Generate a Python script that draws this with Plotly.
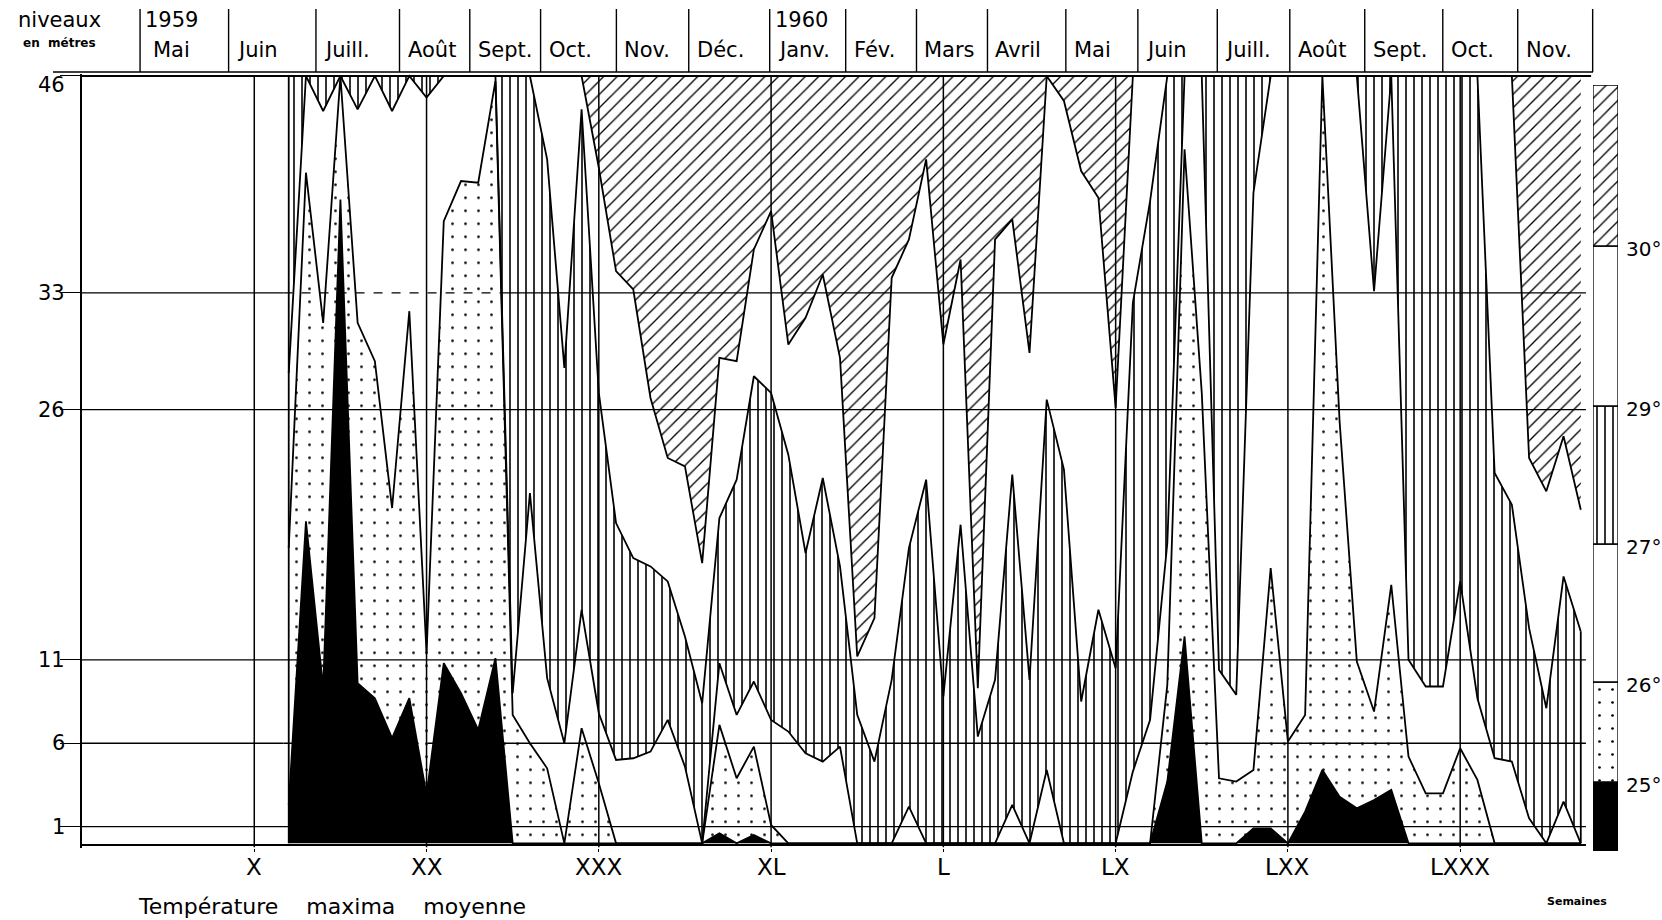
import plotly.graph_objects as go

# ---------------- data ----------------
weeks = list(range(12, 88))

# heights (m) of the isotherms, week by week
iso25 = [2.3, 19.3, 9.3, 38.6, 9.6, 8.7, 6.3, 8.7, 2.9, 10.8, 9.0, 6.8, 11.1,
         0, 0, 0, 0, 0, 0, 0, 0, 0, 0, 0, 0,
         0.6, 0, 0.5, 0,
         0, 0, 0, 0, 0, 0, 0, 0, 0, 0, 0, 0, 0, 0, 0, 0, 0, 0, 0, 0, 0, 0,
         3.7, 12.4,
         0, 0, 0, 0.9, 0.9, 0,
         1.9, 4.4, 2.8, 2.1, 2.6, 3.2,
         0, 0, 0, 0, 0, 0, 0, 0, 0, 0, 0]

iso26 = [17.7, 40.2, 31.2, 46, 31.2, 28.9, 20.1, 31.9, 11.4, 37.3, 39.7, 39.6, 45.7,
         7.7, 6.0, 4.5, 0, 6.9, 3.6, 0, 0, 0, 0, 0, 0, 7.1, 3.9, 5.8, 1.1,
         0, 0, 0, 0, 0, 0, 0, 0, 0, 0, 0, 0, 0, 0, 0, 0, 0, 0, 0, 0, 0, 0,
         9.5, 41.6, 27, 3.9, 3.7, 4.4, 16.5, 6.1, 7.7, 46, 25.3, 10.9, 7.9, 15.5,
         5.2, 3.0, 3.0, 5.7, 3.8,
         0, 0, 0, 0, 0, 0]

iso27 = [28.2, 46, 43.9, 46, 44.0, 46, 43.9, 46, 44.7, 46, 46, 46, 46,
         9.0, 21.0, 9.9, 6.0, 14.0, 7.8, 5.0, 5.1, 5.5, 7.4, 4.6, 0,
         10.8, 7.7, 9.7, 7.4, 6.7, 5.4, 4.9, 5.8,
         0, 0, 0, 2.2, 0, 0, 0, 0, 0, 2.3, 0, 4.4, 0, 0, 0, 0,
         4.3, 7.4, 18, 46, 46, 10.4, 8.9, 39, 46, 46, 46, 46, 46, 46, 33.1, 46,
         11.0, 9.4, 9.4, 15.7, 8.7, 5.1, 4.9, 1.5, 0, 2.5, 0]

iso29 = [46, 46, 46, 46, 46, 46, 46, 46, 46, 46, 46, 46, 46, 46, 46,
         41.0, 28.5, 44.0, 27.0, 19.2, 17.1, 16.6, 15.7, 12.4, 8.4, 19.5, 21.8,
         28.0, 27.0, 23.3, 17.4, 21.9, 16.6,
         7.7, 4.9, 9.8, 17.7, 21.8, 8.8, 19.1, 6.4, 9.8, 22.1, 9.8, 26.6, 22.4,
         8.5, 14.0, 10.5, 32.4, 38.5,
         46, 46, 46, 46, 46, 46, 46, 46, 46, 46, 46, 46, 46, 46, 46, 46, 46, 46, 46,
         22.2, 20.3, 12.9, 8.1, 16.0, 12.7]

iso30 = [46, 46, 46, 46, 46, 46, 46, 46, 46, 46, 46, 46, 46, 46, 46, 46, 46, 46,
         40.5, 34.3, 33.2, 26.7, 23.1, 22.6, 16.8, 29.1, 28.9, 35.6, 37.9, 29.9,
         31.5, 34.1, 29.1, 11.2,
         13.5, 33.9, 36.2, 41.0, 29.9, 35.0, 9.3, 36.2, 37.4, 29.4, 46, 44.5,
         40.3, 38.7, 26.1,
         46, 46, 46, 46, 46, 46, 46, 46, 46, 46, 46, 46, 46, 46, 46, 46, 46, 46,
         46, 46, 46, 46, 46,
         23.1, 21.1, 24.4, 20.0]

depth_levels = [1, 6, 11, 26, 33, 46]
depth_labels = ["1", "6", "11", "26", "33", "46"]
week_ticks = [10, 20, 30, 40, 50, 60, 70, 80]
week_tick_labels = ["X", "XX", "XXX", "XL", "L", "LX", "LXX", "LXXX"]

month_edges = [3.37, 8.51, 13.58, 18.43, 22.51, 26.62, 31.02, 35.22, 39.92,
               44.33, 48.44, 52.56, 57.11, 61.29, 65.90, 70.11, 74.46, 78.99,
               83.34, 87.69]
month_labels = ["Mai", "Juin", "Juill.", "Août", "Sept.", "Oct.", "Nov.", "Déc.",
                "Janv.", "Fév.", "Mars", "Avril", "Mai", "Juin", "Juill.", "Août",
                "Sept.", "Oct.", "Nov."]
year_labels = {0: "1959", 8: "1960"}

legend_temps = ["25°", "26°", "27°", "29°", "30°"]

# ---------------- layout constants ----------------
W, H = 1662, 920
ML, MR, MT, MB = 82, 0, 0, 60
PW = W - ML - MR
PH = H - MT - MB
FONT = "DejaVu Sans"
TOP = 46
X_MAX = 88
GRID_END = 87.3


def px_x(p):
    return (p - ML) / PW


def px_y(p):
    return (PH - p) / PH


n = len(weeks)
zeros = [0] * n
tops = [TOP] * n

dots = dict(shape=".", size=13, solidity=0.035, fgcolor="black", bgcolor="white", fillmode="replace")
vert = dict(shape="|", size=8, solidity=0.2, fgcolor="black", bgcolor="white", fillmode="replace")
diag = dict(shape="/", size=9.5, solidity=0.14, fgcolor="black", bgcolor="white", fillmode="replace")

bands = [
    (iso25, "black", None),
    (iso26, "white", dots),
    (iso27, "white", None),
    (iso29, "white", vert),
    (iso30, "white", None),
    (tops, "white", diag),
]

fig = go.Figure()
fig.add_trace(go.Scatter(x=weeks, y=zeros, mode="lines", line=dict(width=0),
                         hoverinfo="skip"))
for upper, color, pat in bands:
    kw = dict(x=weeks, y=upper, mode="lines", line=dict(width=0), fill="tonexty",
              fillcolor=color, hoverinfo="skip")
    if pat:
        kw["fillpattern"] = pat
    fig.add_trace(go.Scatter(**kw))

for iso in [iso25, iso26, iso27, iso29, iso30]:
    fig.add_trace(go.Scatter(x=weeks, y=iso, mode="lines",
                             line=dict(color="black", width=1.8), hoverinfo="skip"))

# ---------------- legend bar (right) ----------------
leg_edges = [0, 69, 169, 307, 445, 605, 766]
leg_fill = [("black", None), ("white", dots), ("white", None), ("white", vert),
            ("white", None), ("white", diag)]
for i, (c, pat) in enumerate(leg_fill):
    mk = dict(color=c, line=dict(color="black", width=1.3))
    if pat:
        mk["pattern"] = pat
    fig.add_trace(go.Bar(x=[0.5], y=[leg_edges[i + 1] - leg_edges[i]], base=[leg_edges[i]],
                         width=[1], marker=mk, xaxis="x3", yaxis="y3", hoverinfo="skip"))

shapes = []
annotations = []

# horizontal depth lines
for lvl in depth_levels:
    if lvl == TOP:
        shapes.append(dict(type="line", xref="x", yref="y", x0=0, x1=87.6, y0=lvl, y1=lvl,
                           line=dict(color="black", width=2), layer="above"))
    elif lvl in (33, 6):
        for a, b, dash in [(0, 11.7, "solid"), (11.7, 24.5, "dash"), (24.5, GRID_END, "solid")]:
            shapes.append(dict(type="line", xref="x", yref="y", x0=a, x1=b, y0=lvl, y1=lvl,
                               line=dict(color="black", width=1.4, dash=dash), layer="above"))
    else:
        shapes.append(dict(type="line", xref="x", yref="y", x0=0, x1=GRID_END, y0=lvl, y1=lvl,
                           line=dict(color="black", width=1.4), layer="above"))
# bottom line
shapes.append(dict(type="line", xref="x", yref="y", x0=0, x1=GRID_END, y0=-0.1, y1=-0.1,
                   line=dict(color="black", width=2), layer="above"))
# vertical week reference lines
for wk in week_ticks:
    shapes.append(dict(type="line", xref="x", yref="y", x0=wk, x1=wk, y0=-0.25, y1=TOP,
                       line=dict(color="black", width=1.5), layer="above"))
# left / right edges of the data
shapes.append(dict(type="line", xref="x", yref="y", x0=weeks[0], x1=weeks[0], y0=0, y1=TOP,
                   line=dict(color="black", width=1.8), layer="above"))
shapes.append(dict(type="line", xref="x", yref="y", x0=weeks[-1], x1=weeks[-1], y0=0,
                   y1=iso29[-1], line=dict(color="black", width=1.8), layer="above"))

# header
shapes.append(dict(type="line", xref="paper", yref="paper", x0=px_x(53), x1=px_x(1593),
                   y0=px_y(72), y1=px_y(72), line=dict(color="black", width=1.4)))
for m in month_edges:
    shapes.append(dict(type="line", xref="x", yref="paper", x0=m, x1=m,
                       y0=px_y(72), y1=px_y(9), line=dict(color="black", width=1.4)))
for i, lab in enumerate(month_labels):
    annotations.append(dict(x=month_edges[i], xref="x", y=px_y(50), yref="paper",
                            text=lab, showarrow=False, xanchor="left", yanchor="middle",
                            xshift=11 if i == 0 else 6,
                            font=dict(family=FONT, size=21, color="black")))
for i, yr in year_labels.items():
    annotations.append(dict(x=month_edges[i], xref="x", y=px_y(20), yref="paper",
                            text=yr, showarrow=False, xanchor="left", yanchor="middle",
                            xshift=3, font=dict(family=FONT, size=21, color="black")))

annotations.append(dict(x=px_x(59), y=px_y(20), xref="paper", yref="paper", text="niveaux",
                        showarrow=False, xanchor="center", yanchor="middle",
                        font=dict(family=FONT, size=21, color="black")))
annotations.append(dict(x=px_x(59), y=px_y(43), xref="paper", yref="paper",
                        text="<b>en  métres</b>",
                        showarrow=False, xanchor="center", yanchor="middle",
                        font=dict(family=FONT, size=12, color="black")))
annotations.append(dict(x=px_x(136), y=px_y(907), xref="paper", yref="paper",
                        text="Température    maxima    moyenne", showarrow=False,
                        xanchor="left", yanchor="middle",
                        font=dict(family=FONT, size=22, color="black")))
annotations.append(dict(x=px_x(1577), y=px_y(902), xref="paper", yref="paper",
                        text="<b>Semaines</b>", showarrow=False, xanchor="center",
                        yanchor="middle", font=dict(family=FONT, size=11, color="black")))
for wk, lab in zip(week_ticks, week_tick_labels):
    annotations.append(dict(x=wk, xref="x", y=px_y(867), yref="paper", text=lab,
                            showarrow=False, xanchor="center", yanchor="middle",
                            font=dict(family=FONT, size=23, color="black")))
for lvl, lab in zip(depth_levels, depth_labels):
    annotations.append(dict(x=px_x(67), xref="paper", y=lvl, yref="y", text=lab,
                            showarrow=False, xanchor="right", yanchor="middle",
                            yshift=-9 if lvl == TOP else 0,
                            font=dict(family=FONT, size=21, color="black")))
for i, t in enumerate(legend_temps):
    annotations.append(dict(x=1, xref="x3", y=leg_edges[i + 1], yref="y3", text=t,
                            showarrow=False, xanchor="left", yanchor="middle",
                            xshift=6, yshift=-3,
                            font=dict(family=FONT, size=20, color="black")))

y_lo, y_hi = -0.25, 46.1
fig.update_layout(
    width=W, height=H,
    margin=dict(l=ML, r=MR, t=MT, b=MB, autoexpand=False),
    plot_bgcolor="white", paper_bgcolor="white",
    showlegend=False, barmode="overlay",
    shapes=shapes, annotations=annotations,
    xaxis=dict(domain=[0, 1516 / PW], range=[0, X_MAX], showgrid=False, zeroline=False,
               showline=False, tickmode="array", tickvals=week_ticks,
               showticklabels=False, ticks="outside", ticklen=3, tickwidth=1.4,
               tickcolor="black", fixedrange=True),
    yaxis=dict(domain=[px_y(847.5), px_y(74.3)], range=[y_lo, y_hi], showgrid=False,
               zeroline=False, showline=True, linecolor="black", linewidth=2,
               tickmode="array", tickvals=depth_levels, ticks="outside", ticklen=20,
               tickwidth=1.4, tickcolor="black", showticklabels=False, fixedrange=True),
    xaxis3=dict(domain=[px_x(1593), px_x(1618)], range=[0, 1], visible=False,
                anchor="y3", fixedrange=True),
    yaxis3=dict(domain=[px_y(851), px_y(85)], range=[0, 766], visible=False,
                anchor="x3", fixedrange=True),
)

fig.write_html("out.html")
